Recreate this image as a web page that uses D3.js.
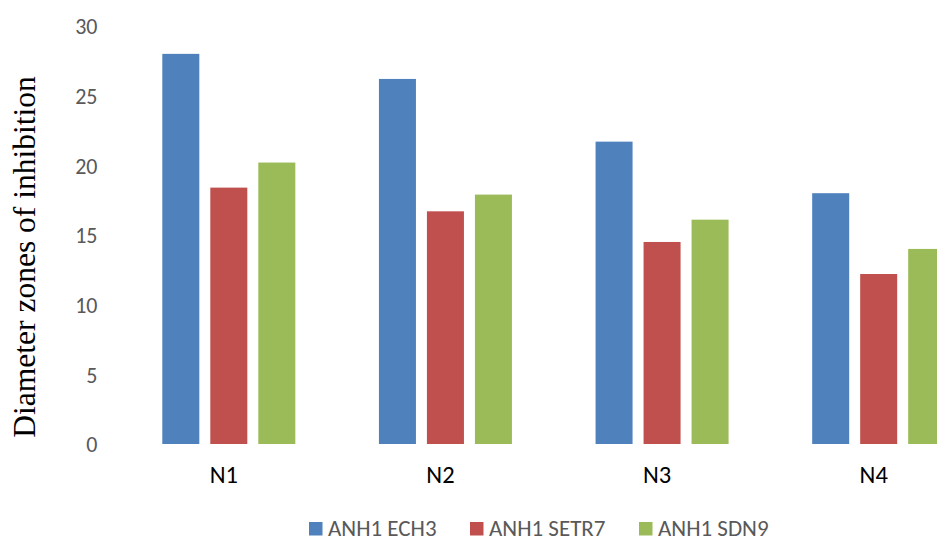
<!DOCTYPE html>
<html>
<head>
<meta charset="utf-8">
<script src="https://cdnjs.cloudflare.com/ajax/libs/d3/7.8.5/d3.min.js"></script>
<style>
    body { margin: 0; background: #fff; }
    text { font-family: Carlito, Calibri, Lato, sans-serif; }
</style>
</head>
<body>
<div id="chart"></div>
<script>
var svgWidth = 937;
var svgHeight = 542;

// chart data
var categories = ["N1", "N2", "N3", "N4"];
var seriesNames = ["ANH1 ECH3", "ANH1 SETR7", "ANH1 SDN9"];
var ech3 = [28.0, 26.2, 21.7, 18.0];
var setr7 = [18.4, 16.7, 14.5, 12.2];
var sdn9 = [20.2, 17.9, 16.1, 14.0];
var yTicks = [0, 5, 10, 15, 20, 25, 30];
var colors = ["#4F81BD", "#C0504D", "#9BBB59"];

var seriesValues = [ech3, setr7, sdn9];

var rows = categories.map(function(c, i) {
    return {
        category: c,
        values: seriesNames.map(function(s, j) {
            return { name: s, value: seriesValues[j][i], color: colors[j] };
        })
    };
});

var svg = d3.select("#chart")
    .append("svg")
    .attr("width", svgWidth)
    .attr("height", svgHeight);

// plot area runs past the right edge, like the cropped original
var x0 = d3.scaleBand()
    .domain(categories)
    .range([120.5, 987])
    .paddingInner(0.386)
    .paddingOuter(0.193);

var x1 = d3.scaleBand()
    .domain(seriesNames)
    .range([0, x0.bandwidth()])
    .paddingInner(0.229);

var y = d3.scaleLinear()
    .domain([0, 30])
    .range([444, 26]);

// y axis (labels only)
var leftAxis = d3.axisLeft(y)
    .tickValues(yTicks)
    .tickSize(0)
    .tickPadding(0);

var yAxis = svg.append("g")
    .attr("transform", "translate(97.5, 0)")
    .call(leftAxis);

yAxis.select(".domain").remove();
yAxis.selectAll("text")
    .attr("font-family", "Carlito, Calibri, Lato, sans-serif")
    .attr("font-size", 22)
    .attr("fill", "#595959")
    .attr("dy", "0.35em");

// bars
var groups = svg.selectAll(".group")
    .data(rows)
    .enter()
    .append("g")
    .attr("class", "group")
    .attr("transform", d => `translate(${x0(d.category)}, 0)`);

groups.selectAll("rect")
    .data(d => d.values)
    .enter()
    .append("rect")
    .attr("x", d => x1(d.name))
    .attr("y", d => y(d.value))
    .attr("width", x1.bandwidth())
    .attr("height", d => y(0) - y(d.value))
    .attr("fill", d => d.color);

// x axis (labels only)
var bottomAxis = d3.axisBottom(x0)
    .tickSize(0)
    .tickPadding(0);

var xAxis = svg.append("g")
    .attr("transform", "translate(-5, 466)")
    .call(bottomAxis);

xAxis.select(".domain").remove();
xAxis.selectAll("text")
    .attr("font-family", "Carlito, Calibri, Lato, sans-serif")
    .attr("font-size", 24.5)
    .attr("fill", "#000")
    .attr("dy", "0.71em");

// y axis title
svg.append("text")
    .attr("transform", "rotate(-90)")
    .attr("x", -257)
    .attr("y", 35)
    .attr("text-anchor", "middle")
    .style("font-family", "'Liberation Serif', 'Times New Roman', serif")
    .attr("font-size", 31.5)
    .attr("fill", "#000")
    .text("Diameter zones of inhibition");

// legend
var legendX = [309, 470, 639];
var legend = svg.selectAll(".legend")
    .data(seriesNames)
    .enter()
    .append("g")
    .attr("class", "legend")
    .attr("transform", (d, i) => `translate(${legendX[i]}, 522)`);

legend.append("rect")
    .attr("width", 13.5)
    .attr("height", 13.5)
    .attr("fill", (d, i) => colors[i]);

legend.append("text")
    .attr("x", 19)
    .attr("y", 14)
    .attr("font-size", 23)
    .attr("fill", "#595959")
    .text(d => d);
</script>
</body>
</html>
